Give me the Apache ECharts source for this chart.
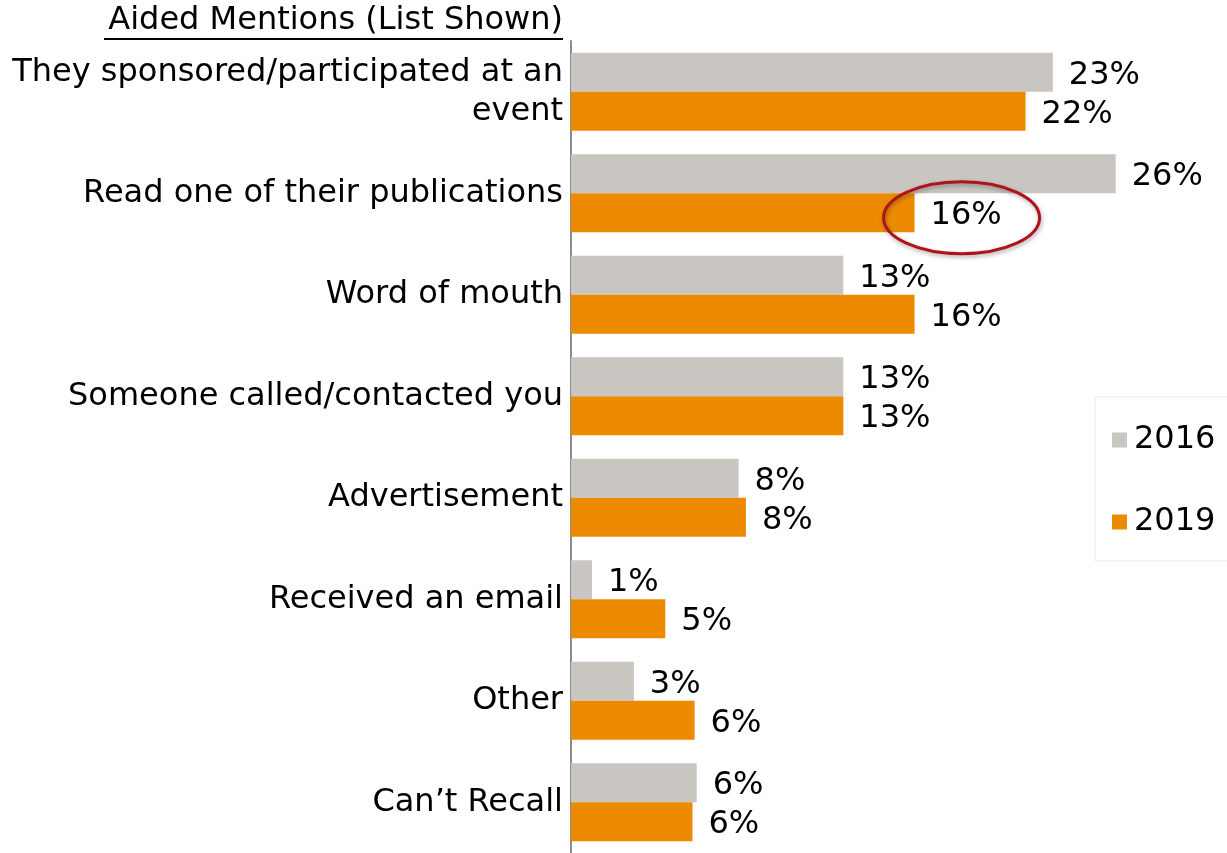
<!DOCTYPE html>
<html>
<head>
<meta charset="utf-8">
<script src="https://cdn.jsdelivr.net/npm/echarts@6/dist/echarts.min.js"></script>
<style>
  html, body { margin: 0; padding: 0; background: #fff; }
  #chart { width: 1227px; height: 853px; }
</style>
</head>
<body>
<div id="chart"></div>
<script>
// categories, top to bottom
var categories = [
    "They sponsored/participated at an\nevent",
    "Read one of their publications",
    "Word of mouth",
    "Someone called/contacted you",
    "Advertisement",
    "Received an email",
    "Other",
    "Can\u2019t Recall"
];

// percent values (bar lengths, labels shown rounded)
var values2016 = [23.0, 26.0, 13.0, 13.0, 8.0, 1.0, 3.0, 6.0];
var values2019 = [21.7, 16.4, 16.4, 13.0, 8.35, 4.5, 5.9, 5.8];

var seriesNames = ["2016", "2019"];
var titleText = "Aided Mentions (List Shown)";

// the highlighted label (circled in red)
var circledIndex = 1;

var FONT = "DejaVu Sans, Verdana, sans-serif";

var chart = echarts.init(document.getElementById("chart"));

function pctLabel(p)
{
    return Math.round(p.value) + "%";
}

var option = {
    animation: false,
    backgroundColor: "#ffffff",
    textStyle: { fontFamily: FONT },
    grid: { left: 571, top: 41, width: 628.5, height: 815 },
    legend: {
        data: seriesNames,
        orient: "vertical",
        left: 1095,
        top: 397,
        padding: [23, 40, 19, 17],
        borderColor: "#ebebeb",
        borderWidth: 1,
        itemWidth: 15,
        itemHeight: 15,
        itemGap: 42,
        icon: "rect",
        textStyle: { fontSize: 32, color: "#000", fontFamily: FONT, lineHeight: 40, padding: [0, 0, 0, 2] }
    },
    xAxis: {
        type: "value",
        min: 0,
        max: 30,
        show: false
    },
    yAxis: {
        type: "category",
        data: categories,
        inverse: true,
        axisLine: { show: true, lineStyle: { color: "#8c8c8c", width: 2 } },
        axisTick: { show: false },
        axisLabel: {
            color: "#000",
            fontSize: 32,
            fontFamily: FONT,
            lineHeight: 39,
            margin: 8,
            padding: [6, 0, 0, 0],
            align: "right"
        }
    },
    series: [
        {
            name: seriesNames[0],
            type: "bar",
            data: values2016,
            barWidth: 39,
            barGap: "0%",
            itemStyle: { color: "#c9c5c1" },
            label: { show: true, position: "right", distance: 16, offset: [0, 3], formatter: pctLabel,
                     fontSize: 32, color: "#000", fontFamily: FONT }
        },
        {
            name: seriesNames[1],
            type: "bar",
            data: values2019,
            barWidth: 39,
            itemStyle: { color: "#ed8b00" },
            label: { show: true, position: "right", distance: 16, offset: [0, 3], formatter: pctLabel,
                     fontSize: 32, color: "#000", fontFamily: FONT }
        }
    ]
};

chart.setOption(option);

// title + underline, and the red ellipse around the circled label
var axisX = chart.convertToPixel({ gridIndex: 0 }, [0, 0])[0];
var endPt = chart.convertToPixel({ gridIndex: 0 }, [values2019[circledIndex], circledIndex]);
var barY = endPt[1] + 19.5;

chart.setOption({
    graphic: [
        {
            type: "text",
            right: 1227 - (axisX - 8),
            top: 5,
            style: { text: titleText, fontSize: 32, fontFamily: FONT, fill: "#000" }
        },
        {
            type: "line",
            shape: { x1: 104, y1: 39, x2: axisX - 8, y2: 39 },
            style: { stroke: "#000", lineWidth: 2 }
        },
        {
            type: "ellipse",
            shape: { cx: endPt[0] + 47, cy: barY + 5, rx: 78, ry: 36 },
            style: {
                fill: "none",
                stroke: "#b0121b",
                lineWidth: 3,
                shadowBlur: 4,
                shadowColor: "rgba(0,0,0,0.35)",
                shadowOffsetX: 1,
                shadowOffsetY: 2
            },
            z: 100
        }
    ]
});
</script>
</body>
</html>
